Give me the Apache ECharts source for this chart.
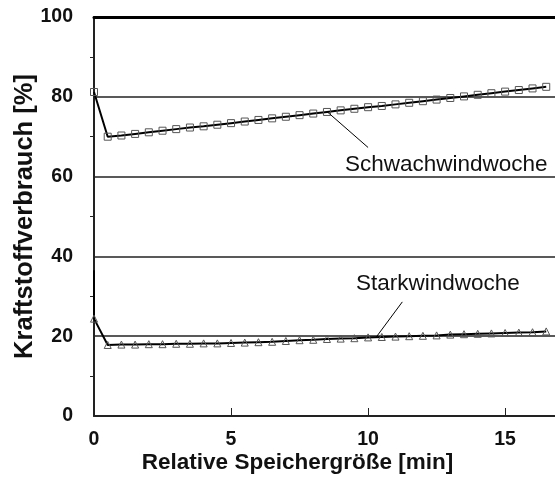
<!DOCTYPE html>
<html>
<head>
<meta charset="utf-8">
<script src="https://cdn.jsdelivr.net/npm/echarts@6/dist/echarts.min.js"></script>
<style>
html,body{margin:0;padding:0;background:#fff;}
#c{width:555px;height:483px;}
</style>
</head>
<body>
<div id="c"></div>
<script>
// Relative storage size [min]
const xValues = [0, 0.5, 1, 1.5, 2, 2.5, 3, 3.5, 4, 4.5, 5, 5.5, 6, 6.5, 7, 7.5, 8, 8.5, 9, 9.5, 10, 10.5, 11, 11.5, 12, 12.5, 13, 13.5, 14, 14.5, 15, 15.5, 16, 16.5];
// Fuel consumption [%], weak-wind week
const schwachValues = [81.2, 70.0, 70.3, 70.7, 71.1, 71.5, 71.9, 72.3, 72.6, 73.0, 73.4, 73.8, 74.2, 74.6, 75.0, 75.4, 75.8, 76.2, 76.6, 77.0, 77.4, 77.7, 78.1, 78.5, 78.9, 79.3, 79.7, 80.1, 80.5, 80.9, 81.3, 81.7, 82.1, 82.5];
// Fuel consumption [%], strong-wind week
const starkValues = [24.4, 17.8, 17.9, 17.9, 18.0, 18.0, 18.1, 18.1, 18.2, 18.2, 18.3, 18.4, 18.5, 18.6, 18.8, 19.0, 19.1, 19.3, 19.4, 19.5, 19.7, 19.8, 19.9, 20.0, 20.1, 20.2, 20.4, 20.5, 20.6, 20.7, 20.8, 20.9, 21.0, 21.2];
const starkLead = [0, 36.5];
const xTicks = [0, 5, 10, 15];
const yTicks = [0, 20, 40, 60, 80, 100];
const seriesNames = ['Schwachwindwoche', 'Starkwindwoche'];

const FONT = 'Liberation Sans, Arial, Helvetica, sans-serif';
const xMax = 16.82;

const schwachData = xValues.map((x, i) => [x, schwachValues[i]]);
const starkData = [{value: starkLead, symbol: 'none'}].concat(xValues.map((x, i) => [x, starkValues[i]]));

const leader = (a, b) => ({
  silent: true, symbol: ['none', 'none'], animation: false,
  label: {show: false},
  lineStyle: {color: '#000', width: 1, type: 'solid'},
  data: [[{coord: a}, {coord: b}]]
});
const tag = (name, at) => ({
  silent: true, animation: false,
  symbol: 'circle', symbolSize: 1, itemStyle: {color: 'rgba(0,0,0,0)'},
  label: {show: true, position: 'inside', formatter: name, color: '#111', fontSize: 22.5, fontFamily: FONT},
  data: [{coord: at}]
});

const chart = echarts.init(document.getElementById('c'), null, {renderer: 'canvas'});
chart.setOption({
  animation: false,
  backgroundColor: '#fff',
  grid: {left: 94, top: 17, right: 0, bottom: 67, containLabel: false, outerBoundsMode: 'none'},
  xAxis: [{
    type: 'value', min: 0, max: xMax, interval: 5,
    name: 'Relative Speichergröße [min]', nameLocation: 'middle', nameGap: 35, nameMoveOverlap: false,
    nameTextStyle: {fontSize: 22.5, fontWeight: 'bold', color: '#111', fontFamily: FONT, padding: [0, 54, 0, 0]},
    axisLine: {show: true, lineStyle: {color: '#222', width: 2}},
    axisTick: {show: true, inside: true, length: 8, lineStyle: {color: '#222', width: 1}},
    axisLabel: {
      color: '#111', fontSize: 19.5, fontWeight: 'bold', fontFamily: FONT, margin: 14, showMaxLabel: false,
      formatter: v => xTicks.includes(v) ? String(v) : ''
    },
    splitLine: {show: false}
  }, {
    type: 'value', min: 0, max: xMax, position: 'top',
    axisLine: {show: true, onZero: false, lineStyle: {color: '#000', width: 3}},
    axisTick: {show: false}, axisLabel: {show: false}, splitLine: {show: false}
  }],
  yAxis: {
    type: 'value', min: 0, max: 100, interval: 20,
    name: 'Kraftstoffverbrauch [%]', nameLocation: 'middle', nameGap: 56, nameRotate: 90, nameMoveOverlap: false,
    nameTextStyle: {fontSize: 25.5, fontWeight: 'bold', color: '#111', fontFamily: FONT},
    axisLine: {show: true, lineStyle: {color: '#222', width: 2}},
    axisTick: {show: false},
    minorTick: {show: true, splitNumber: 2, length: 4, lineStyle: {color: '#222', width: 1}},
    axisLabel: {
      color: '#111', fontSize: 19.5, fontWeight: 'bold', fontFamily: FONT, margin: 21,
      formatter: v => yTicks.includes(v) ? String(v) : ''
    },
    splitLine: {show: true, lineStyle: {color: '#222', width: 1.5}}
  },
  series: [{
    name: seriesNames[0], type: 'line', data: schwachData,
    symbol: 'rect', symbolSize: 7,
    lineStyle: {color: '#000', width: 2},
    itemStyle: {color: 'rgba(0,0,0,0)', borderColor: '#555', borderWidth: 1},
    markLine: leader([8.5, 76.3], [10.0, 67.3]),
    markPoint: tag(seriesNames[0], [12.85, 63.0])
  }, {
    name: seriesNames[1], type: 'line', data: starkData,
    symbol: 'triangle', symbolSize: 7,
    lineStyle: {color: '#000', width: 2},
    itemStyle: {color: 'rgba(0,0,0,0)', borderColor: '#555', borderWidth: 1},
    markLine: leader([10.3, 19.8], [11.25, 28.6]),
    markPoint: tag(seriesNames[1], [12.55, 33.1])
  }]
});
</script>
</body>
</html>
